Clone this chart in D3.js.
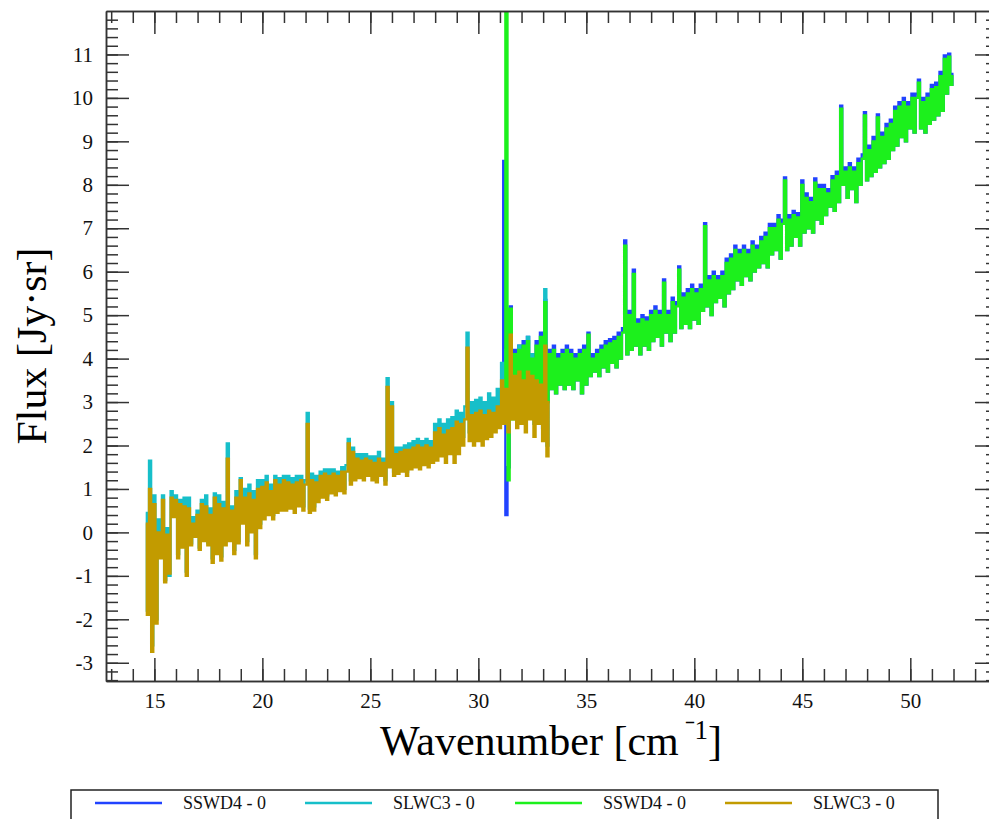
<!DOCTYPE html>
<html>
<head>
<meta charset="utf-8">
<script src="https://cdn.jsdelivr.net/npm/d3@7/dist/d3.min.js"></script>
<style>
  body { margin: 0; background: #fff; }
  svg { display: block; }
</style>
</head>
<body>
<script>
var ancho = 989, alto = 819;

// rejilla de numero de onda (cm-1) de cada detector
var slwInicio = 14.6, sswInicio = 31.1, paso = 0.1;

// SLWC3 (dorado), un valor cada 0.1 cm-1
var slwOro = [
  0.2, -1.9, 1.0, -2.75, 0.65, -2.1, 0.0, -0.6, 0.75, -1.15,
  -0.05, -0.95, 0.8, 0.35, 0.75, -0.6, 0.65, -0.35, 0.6, -1.0,
  0.55, -0.3, 0.2, -0.1, 0.4, -0.4, 0.65, -0.2, 0.6, -0.3,
  0.4, -0.7, 0.8, -0.5, 0.65, -0.65, 0.55, -0.3, 1.7, -0.2,
  0.5, -0.5, 0.8, -0.25, 1.2, 0.2, 0.8, -0.3, 0.9, 0.0,
  0.75, -0.6, 1.0, 0.1, 1.05, 0.3, 1.15, 0.4, 0.95, 0.3,
  1.2, 0.45, 1.1, 0.5, 1.2, 0.5, 1.15, 0.55, 1.1, 0.45,
  1.15, 0.6, 1.2, 0.5, 1.1, 2.5, 0.45, 1.2, 0.5, 1.15,
  0.7, 1.3, 0.8, 1.35, 0.75, 1.3, 0.9, 1.35, 0.85, 1.3,
  0.95, 1.4, 0.9, 1.4, 2.05, 1.1, 1.85, 1.2, 1.7, 1.25,
  1.65, 1.2, 1.7, 1.3, 1.65, 1.2, 1.6, 1.15, 1.7, 1.3,
  1.6, 1.1, 3.35, 1.5, 2.9, 1.3, 1.8, 1.35, 1.85, 1.4,
  1.9, 1.3, 1.9, 1.45, 1.95, 1.5, 2.0, 1.45, 1.95, 1.55,
  2.0, 1.5, 1.95, 1.6, 2.3, 1.65, 2.4, 1.75, 2.25, 1.6,
  2.35, 1.8, 2.4, 1.6, 2.55, 1.8, 2.5, 2.0, 2.6, 4.25,
  2.1, 2.7, 2.0, 2.75, 2.1, 2.8, 2.0, 2.7, 2.15, 2.8,
  2.2, 2.75, 2.3, 2.9, 2.4, 3.5, 2.5, 3.3, 2.3, 4.55,
  2.6, 3.6, 2.4, 3.7, 2.5, 3.5, 2.3, 3.7, 2.6, 3.6,
  2.2, 3.5, 2.5, 3.4, 2.1, 4.3, 1.75, 3.0
];

// SLWC3 (cian), misma rejilla
var slwCian = [
  0.45, -1.8, 1.65, -2.6, 0.85, -2.0, 0.3, -0.5, 0.85, -1.1,
  0.1, -1.0, 0.95, 0.4, 0.85, -0.5, 0.75, -0.3, 0.8, -0.9,
  0.8, -0.25, 0.35, -0.05, 0.5, -0.35, 0.75, -0.15, 0.85, -0.25,
  0.55, -0.6, 0.9, -0.4, 0.85, -0.55, 0.7, -0.2, 2.05, -0.1,
  0.6, -0.4, 0.95, -0.2, 1.25, 0.3, 1.0, -0.2, 1.1, 0.1,
  0.95, -0.5, 1.2, 0.2, 1.2, 0.4, 1.3, 0.5, 1.1, 0.4,
  1.3, 0.55, 1.25, 0.6, 1.3, 0.6, 1.3, 0.65, 1.25, 0.55,
  1.3, 0.7, 1.3, 0.6, 1.2, 2.75, 0.55, 1.35, 0.6, 1.3,
  0.8, 1.4, 0.9, 1.45, 0.85, 1.45, 1.0, 1.45, 0.95, 1.4,
  1.05, 1.5, 1.0, 1.55, 2.15, 1.2, 1.95, 1.3, 1.8, 1.35,
  1.8, 1.3, 1.8, 1.4, 1.75, 1.3, 1.75, 1.25, 1.85, 1.4,
  1.7, 1.2, 3.55, 1.6, 3.0, 1.4, 1.95, 1.45, 1.95, 1.5,
  2.0, 1.4, 2.05, 1.55, 2.1, 1.6, 2.15, 1.55, 2.1, 1.65,
  2.15, 1.6, 2.1, 1.7, 2.5, 1.8, 2.6, 1.9, 2.5, 1.8,
  2.6, 2.0, 2.65, 1.8, 2.8, 2.0, 2.75, 2.2, 2.9, 4.6,
  2.3, 3.0, 2.2, 3.05, 2.3, 3.1, 2.2, 3.0, 2.4, 3.2,
  2.4, 3.1, 2.5, 3.3, 2.6, 3.9, 2.7, 4.2, 2.6, 4.95,
  2.8, 4.0, 2.7, 4.3, 2.8, 4.0, 2.6, 4.5, 2.9, 4.1,
  2.5, 4.0, 2.8, 4.2, 2.4, 5.6, 2.0, 3.2
];

// SSWD4 (azul), un valor cada 0.1 cm-1 desde 31.1
var sswAzul = [
  3.1, 8.55, 0.4, 1.5, 5.2, 2.7, 4.2, 2.8, 4.3, 2.9,
  4.4, 3.0, 4.5, 2.9, 4.1, 3.0, 4.4, 3.1, 4.6, 3.2,
  5.35, 3.0, 4.2, 3.3, 4.3, 3.2, 4.1, 3.4, 4.2, 3.3,
  4.3, 3.4, 4.2, 3.3, 4.1, 3.5, 4.2, 3.2, 4.3, 3.4,
  4.6, 3.6, 4.1, 3.7, 4.2, 3.6, 4.3, 3.8, 4.4, 3.7,
  4.45, 3.9, 4.5, 3.8, 4.6, 4.0, 4.7, 6.72, 4.1, 5.1,
  4.2, 6.05, 4.3, 4.9, 4.1, 5.0, 4.3, 4.95, 4.2, 5.1,
  4.4, 5.2, 4.5, 5.1, 4.3, 5.82, 4.6, 5.1, 4.4, 5.4,
  4.6, 5.3, 6.12, 4.7, 5.5, 4.8, 5.6, 4.7, 5.7, 4.9,
  5.6, 4.8, 5.7, 5.1, 7.12, 5.2, 5.9, 5.0, 6.0, 5.3,
  5.9, 5.4, 6.0, 5.2, 6.3, 5.5, 6.4, 5.6, 6.6, 5.8,
  6.5, 5.7, 6.6, 5.9, 6.5, 5.8, 6.7, 6.0, 6.6, 6.1,
  6.8, 6.2, 6.9, 6.1, 7.1, 6.4, 7.1, 6.5, 7.3, 6.3,
  7.2, 8.17, 6.5, 7.3, 6.6, 7.4, 6.8, 7.35, 6.6, 8.1,
  6.9, 7.8, 7.0, 7.7, 6.9, 8.15, 7.2, 8.0, 7.1, 8.0,
  7.3, 7.9, 7.5, 8.2, 7.4, 8.3, 7.6, 9.82, 8.0, 8.4,
  7.7, 8.5, 7.9, 8.4, 7.6, 8.6, 8.0, 8.7, 9.67, 8.1,
  8.9, 8.2, 9.1, 8.3, 9.62, 8.4, 9.2, 8.5, 9.4, 8.6,
  9.5, 8.8, 9.8, 8.9, 9.9, 9.1, 10.0, 9.0, 9.9, 9.3,
  10.1, 9.2, 10.1, 10.42, 9.3, 10.0, 9.2, 10.1, 9.4, 10.3,
  9.5, 10.35, 9.6, 10.6, 9.7, 10.98, 10.1, 11.02, 10.3, 10.55
];

// SSWD4 (verde), misma rejilla
var sswVerde = [
  3.0, 2.8, 13.0, 1.2, 5.15, 2.6, 4.1, 2.8, 4.2, 2.9,
  4.3, 3.0, 4.4, 2.9, 4.0, 3.0, 4.3, 3.1, 4.5, 3.2,
  5.3, 3.0, 4.1, 3.3, 4.2, 3.2, 4.0, 3.4, 4.1, 3.3,
  4.2, 3.4, 4.1, 3.3, 4.0, 3.5, 4.1, 3.2, 4.2, 3.4,
  4.55, 3.6, 4.0, 3.7, 4.1, 3.6, 4.2, 3.8, 4.3, 3.7,
  4.35, 3.9, 4.4, 3.8, 4.5, 4.0, 4.6, 6.6, 4.1, 5.0,
  4.2, 5.95, 4.3, 4.8, 4.1, 4.9, 4.3, 4.85, 4.2, 5.0,
  4.4, 5.1, 4.5, 5.0, 4.3, 5.75, 4.6, 5.0, 4.4, 5.3,
  4.6, 5.2, 6.05, 4.7, 5.4, 4.8, 5.5, 4.7, 5.6, 4.9,
  5.5, 4.8, 5.6, 5.1, 7.05, 5.2, 5.8, 5.0, 5.9, 5.3,
  5.8, 5.4, 5.9, 5.2, 6.2, 5.5, 6.3, 5.6, 6.5, 5.8,
  6.4, 5.7, 6.5, 5.9, 6.4, 5.8, 6.6, 6.0, 6.5, 6.1,
  6.7, 6.2, 6.8, 6.1, 7.0, 6.4, 7.0, 6.5, 7.2, 6.3,
  7.1, 8.1, 6.5, 7.2, 6.6, 7.3, 6.8, 7.25, 6.6, 8.0,
  6.9, 7.7, 7.0, 7.6, 6.9, 8.05, 7.2, 7.9, 7.1, 7.9,
  7.3, 7.8, 7.5, 8.1, 7.4, 8.2, 7.6, 9.75, 8.0, 8.3,
  7.7, 8.4, 7.9, 8.3, 7.6, 8.5, 8.0, 8.6, 9.6, 8.1,
  8.8, 8.2, 9.0, 8.3, 9.55, 8.4, 9.1, 8.5, 9.3, 8.6,
  9.4, 8.8, 9.7, 8.9, 9.8, 9.1, 9.9, 9.0, 9.8, 9.3,
  10.0, 9.2, 10.0, 10.35, 9.3, 9.9, 9.2, 10.0, 9.4, 10.2,
  9.5, 10.25, 9.6, 10.5, 9.7, 10.9, 10.1, 10.95, 10.3, 10.5
];

// etiquetas de los ejes
var ticksX = [15, 20, 25, 30, 35, 40, 45, 50];
var ticksY = [-3, -2, -1, 0, 1, 2, 3, 4, 5, 6, 7, 8, 9, 10, 11];
var nombres = ["SSWD4 - 0", "SLWC3 - 0", "SSWD4 - 0", "SLWC3 - 0"];
var colores = ["#2143ff", "#17bfc9", "#1cf01c", "#c29b00"];

//Creación del svg principal
var svg = d3.select("body")
  .append("svg")
  .attr("width", ancho)
  .attr("height", alto);

var izq = 106, der = 998, arriba = 11, abajo = 681;

var escalaX = d3.scaleLinear()
  .domain([12.76, 54.06])
  .range([izq, der]);

var escalaY = d3.scaleLinear()
  .domain([-3.42, 12.0])
  .range([abajo, arriba]);

// recorte al area del grafico
svg.append("clipPath")
  .attr("id", "recorte")
  .append("rect")
  .attr("x", izq).attr("y", arriba)
  .attr("width", der - izq).attr("height", abajo - arriba);

// espectros: azul, cian, verde y dorado encima
var espectros = [
  { valores: sswAzul, inicio: sswInicio, color: colores[0] },
  { valores: slwCian, inicio: slwInicio, color: colores[1] },
  { valores: sswVerde, inicio: sswInicio, color: colores[2] },
  { valores: slwOro, inicio: slwInicio, color: colores[3] }
];

var gEspectros = svg.append("g").attr("clip-path", "url(#recorte)");

espectros.forEach(function(s) {
  // linea en escalera, como el histograma del espectro
  var linea = d3.line()
    .curve(d3.curveStep)
    .x(function(d, i) { return escalaX(s.inicio + i * paso); })
    .y(function(d) { return escalaY(d); });
  gEspectros.append("path")
    .datum(s.valores)
    .attr("d", linea)
    .attr("fill", "none")
    .attr("stroke", s.color)
    .attr("stroke-width", 2.3);
});

// ejes con ticks hacia dentro
var menoresX = d3.range(13, 54);
var menoresY = d3.range(-17, 60).map(function(d) { return d / 5; });
var formato = function(d) { return String(d); };

function estilo(g) {
  g.selectAll("path.domain").attr("stroke", "#333").attr("stroke-width", 1.5);
  g.selectAll(".tick line").attr("stroke", "#333").attr("stroke-width", 1.5);
  g.selectAll(".tick text")
    .attr("fill", "#111")
    .style("font-family", "'Liberation Serif', 'DejaVu Serif', serif")
    .style("font-size", "21px");
}

svg.append("g").attr("transform", "translate(0," + abajo + ")")
  .call(d3.axisBottom(escalaX).tickValues(menoresX).tickSize(-12).tickSizeOuter(0).tickFormat(""))
  .call(estilo);
svg.append("g").attr("transform", "translate(0," + abajo + ")")
  .call(d3.axisBottom(escalaX).tickValues(ticksX).tickSize(-23).tickSizeOuter(0).tickPadding(12).tickFormat(formato))
  .call(estilo);
svg.append("g").attr("transform", "translate(0," + arriba + ")")
  .call(d3.axisTop(escalaX).tickValues(menoresX).tickSize(-12).tickSizeOuter(0).tickFormat(""))
  .call(estilo);
svg.append("g").attr("transform", "translate(0," + arriba + ")")
  .call(d3.axisTop(escalaX).tickValues(ticksX).tickSize(-23).tickSizeOuter(0).tickFormat(""))
  .call(estilo);

svg.append("g").attr("transform", "translate(" + izq + ",0)")
  .call(d3.axisLeft(escalaY).tickValues(menoresY).tickSize(-12).tickSizeOuter(0).tickFormat(""))
  .call(estilo);
svg.append("g").attr("transform", "translate(" + izq + ",0)")
  .call(d3.axisLeft(escalaY).tickValues(ticksY).tickSize(-23).tickSizeOuter(0).tickPadding(13).tickFormat(formato))
  .call(estilo);
svg.append("g").attr("transform", "translate(" + der + ",0)")
  .call(d3.axisRight(escalaY).tickValues(menoresY).tickSize(-12).tickSizeOuter(0).tickFormat(""))
  .call(estilo);
svg.append("g").attr("transform", "translate(" + der + ",0)")
  .call(d3.axisRight(escalaY).tickValues(ticksY).tickSize(-23).tickSizeOuter(0).tickFormat(""))
  .call(estilo);

// titulos de los ejes
svg.append("text")
  .attr("transform", "translate(46," + (arriba + abajo) / 2 + ") rotate(-90)")
  .attr("text-anchor", "middle")
  .style("font-family", "'Liberation Serif', serif")
  .style("font-size", "42px")
  .attr("fill", "#000")
  .text("Flux [Jy·sr]");

var tituloX = svg.append("text")
  .attr("x", 551)
  .attr("y", 755)
  .attr("text-anchor", "middle")
  .style("font-family", "'Liberation Serif', serif")
  .style("font-size", "42px")
  .attr("fill", "#000");
tituloX.append("tspan").text("Wavenumber [cm");
tituloX.append("tspan").attr("dy", -16).style("font-size", "27px").text(" \u02C91");
tituloX.append("tspan").attr("dy", 16).text("]");

// leyenda
svg.append("rect")
  .attr("x", 71).attr("y", 790)
  .attr("width", 867).attr("height", 50)
  .attr("fill", "#fff")
  .attr("stroke", "#222")
  .attr("stroke-width", 1.5);

var items = svg.selectAll("g.item")
  .data(nombres)
  .enter()
  .append("g")
  .attr("class", "item")
  .attr("transform", function(d, i) { return "translate(" + (95 + i * 210) + ",803)"; });

items.append("line")
  .attr("x1", 0).attr("x2", 67)
  .attr("y1", 0).attr("y2", 0)
  .attr("stroke", function(d, i) { return colores[i]; })
  .attr("stroke-width", 2.5);

items.append("text")
  .attr("x", 88)
  .attr("y", 6)
  .style("font-family", "'Liberation Serif', serif")
  .style("font-size", "18px")
  .attr("fill", "#111")
  .text(function(d) { return d; });
</script>
</body>
</html>
